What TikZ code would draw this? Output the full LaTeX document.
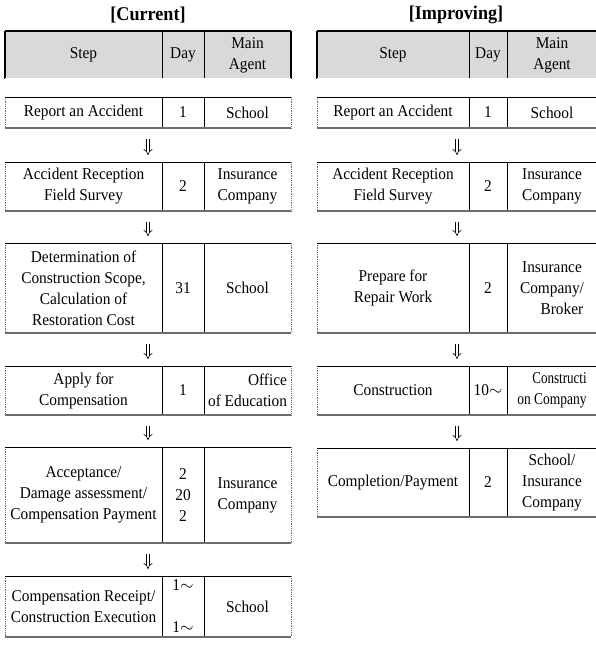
\documentclass[tikz,border=0pt]{standalone}
\usepackage{fontspec}
\setmainfont{Liberation Serif}[FakeStretch=0.93]
\usepackage{graphicx}
\usetikzlibrary{positioning,calc,arrows.meta}
\definecolor{headgray}{RGB}{217,217,217}
\definecolor{rulegray}{RGB}{110,110,110}
\tikzset{
    cell/.style={inner sep=1pt, outer sep=0pt, align=center, font=\fontsize{16.5}{21}\selectfont},
    headcell/.style={cell, fill=headgray, minimum height=48pt, font=\fontsize{16.5}{18}\selectfont},
    cstep/.style={cell, minimum width=157pt},
    cday/.style={cell, minimum width=42pt},
    cagent/.style={cell, minimum width=87pt},
    istep/.style={cell, minimum width=152pt},
    iday/.style={cell, minimum width=38pt},
    iagent/.style={cell, minimum width=90pt},
    title/.style={font=\fontsize{19.5}{22}\selectfont\bfseries},
    sideline/.style={densely dotted, rulegray, line width=0.8pt},
    topline/.style={black, line width=0.6pt},
    botline/.style={rulegray, line width=1.2pt},
    divline/.style={black, line width=0.6pt},
    flow/.style={double, double distance=2.6pt, line width=0.6pt, -{Implies[length=4pt, width=9pt]}, shorten <=11pt, shorten >=7pt}
}
\newcommand{\rowframe}[1]{%
    \draw[sideline] (#1s.north west) -- (#1s.south west) (#1a.north east) -- (#1a.south east);
    \draw[divline] (#1d.north west) -- (#1d.south west) (#1d.north east) -- (#1d.south east);
    \draw[topline] (#1s.north west) -- (#1a.north east);
    \draw[botline] (#1s.south west) -- (#1a.south east);}
\newcommand{\headframe}[1]{%
    \draw[black, line width=1.2pt] (#1s.north west) -- (#1s.south west) (#1a.north east) -- (#1a.south east);
    \draw[divline] (#1d.north west) -- (#1d.south west) (#1d.north east) -- (#1d.south east);
    \draw[black, line width=2pt] (#1s.north west) -- (#1a.north east);
    \draw[double, double distance=1.2pt, line width=0.6pt] (#1s.south west) -- (#1a.south east);}
\newcommand{\flowarrow}[2]{%
    \draw[flow] ($(#1s.south west)!.5!(#1a.south east)$) -- ($(#2s.north west)!.5!(#2a.north east)$);}
\begin{document}
\begin{tikzpicture}[x=1pt, y=-1pt]
    \useasboundingbox (0,0) rectangle (595,645);
    \node[title] (curtitle) at (148,15) {[Current]};
    \node[title] (imptitle) at (456,15) {[Improving]};

    % current
    \node[headcell, cstep, anchor=north west] (chs) at (5,31) {Step};
    \node[headcell, cday, right=0pt of chs] (chd) {Day};
    \node[headcell, cagent, right=0pt of chd] (cha) {Main\\Agent};
    \headframe{ch}

    \node[cstep, minimum height=31pt, anchor=north west] (c1s) at (5,97) {Report an Accident};
    \node[cday, minimum height=31pt, right=0pt of c1s] (c1d) {1};
    \node[cagent, minimum height=31pt, right=0pt of c1d] (c1a) {School};
    \rowframe{c1}

    \node[cstep, minimum height=49pt, anchor=north west] (c2s) at (5,162) {Accident Reception\\Field Survey};
    \node[cday, minimum height=49pt, right=0pt of c2s] (c2d) {2};
    \node[cagent, minimum height=49pt, right=0pt of c2d] (c2a) {Insurance\\Company};
    \rowframe{c2}

    \node[cstep, minimum height=90pt, anchor=north west] (c3s) at (5,243) {Determination of\\Construction Scope,\\Calculation of\\Restoration Cost};
    \node[cday, minimum height=90pt, right=0pt of c3s] (c3d) {31};
    \node[cagent, minimum height=90pt, right=0pt of c3d] (c3a) {School};
    \rowframe{c3}

    \node[cstep, minimum height=49pt, anchor=north west] (c4s) at (5,366) {Apply for\\Compensation};
    \node[cday, minimum height=49pt, right=0pt of c4s] (c4d) {1};
    \node[cagent, minimum height=49pt, align=right, right=0pt of c4d] (c4a) {Office\\of Education};
    \rowframe{c4}

    \node[cstep, minimum height=96pt, anchor=north west] (c5s) at (5,447) {Acceptance/\\Damage assessment/\\Compensation Payment};
    \node[cday, minimum height=96pt, right=0pt of c5s] (c5d) {2\\20\\2};
    \node[cagent, minimum height=96pt, right=0pt of c5d] (c5a) {Insurance\\Company};
    \rowframe{c5}

    \node[cstep, minimum height=61pt, anchor=north west] (c6s) at (5,576) {Compensation Receipt/\\Construction Execution};
    \node[cday, minimum height=61pt, right=0pt of c6s] (c6d) {1$\sim$\\[21pt]1$\sim$};
    \node[cagent, minimum height=61pt, right=0pt of c6d] (c6a) {School};
    \rowframe{c6}

    \flowarrow{c1}{c2}
    \flowarrow{c2}{c3}
    \flowarrow{c3}{c4}
    \flowarrow{c4}{c5}
    \flowarrow{c5}{c6}

    % improving
    \node[headcell, istep, anchor=north west] (ihs) at (317,31) {Step};
    \node[headcell, iday, right=0pt of ihs] (ihd) {Day};
    \node[headcell, iagent, right=0pt of ihd] (iha) {Main\\Agent};
    \headframe{ih}

    \node[istep, minimum height=31pt, anchor=north west] (i1s) at (317,97) {Report an Accident};
    \node[iday, minimum height=31pt, right=0pt of i1s] (i1d) {1};
    \node[iagent, minimum height=31pt, right=0pt of i1d] (i1a) {School};
    \rowframe{i1}

    \node[istep, minimum height=49pt, anchor=north west] (i2s) at (317,162) {Accident Reception\\Field Survey};
    \node[iday, minimum height=49pt, right=0pt of i2s] (i2d) {2};
    \node[iagent, minimum height=49pt, right=0pt of i2d] (i2a) {Insurance\\Company};
    \rowframe{i2}

    \node[istep, minimum height=90pt, anchor=north west] (i3s) at (317,243) {Prepare for\\Repair Work};
    \node[iday, minimum height=90pt, right=0pt of i3s] (i3d) {2};
    \node[iagent, minimum height=90pt, right=0pt of i3d] (i3a) {Insurance\\Company/\\\hspace*{1.2em}Broker};
    \rowframe{i3}

    \node[istep, minimum height=49pt, anchor=north west] (i4s) at (317,366) {Construction};
    \node[iday, minimum height=49pt, right=0pt of i4s] (i4d) {10$\sim$};
    \node[iagent, minimum height=49pt, align=right, right=0pt of i4d] (i4a) {\scalebox{0.85}[1]{Constructi}\\\scalebox{0.88}[1]{on Company}};
    \rowframe{i4}

    \node[istep, minimum height=69pt, anchor=north west] (i5s) at (317,448) {Completion/Payment};
    \node[iday, minimum height=69pt, right=0pt of i5s] (i5d) {2};
    \node[iagent, minimum height=69pt, right=0pt of i5d] (i5a) {School/\\Insurance\\Company};
    \rowframe{i5}

    \flowarrow{i1}{i2}
    \flowarrow{i2}{i3}
    \flowarrow{i3}{i4}
    \flowarrow{i4}{i5}
\end{tikzpicture}
\end{document}
